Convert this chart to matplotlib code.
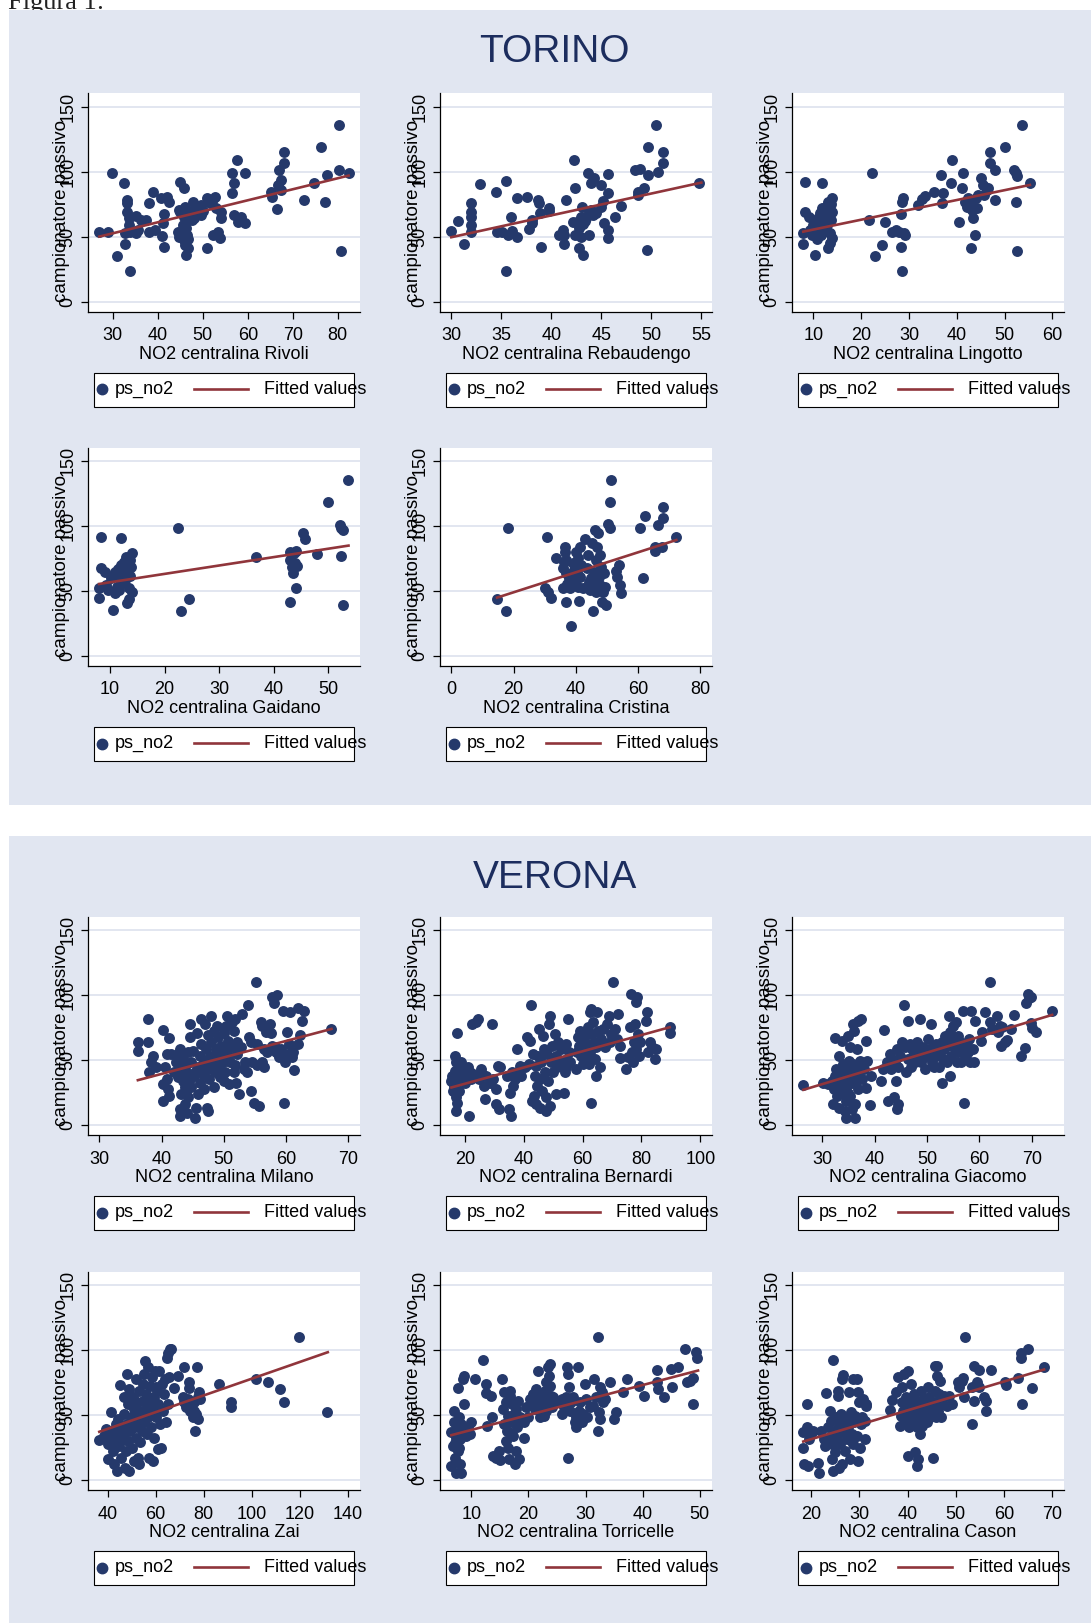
import matplotlib.pyplot as plt
from matplotlib.patches import Rectangle
from matplotlib.lines import Line2D

# ================================================================
# Data read off the figure: (NO2 centralina, campionatore passivo)
# ================================================================
rivoli = [(27.0, 53.3), (28.9, 53.3), (29.9, 98.7), (31.0, 35.1), (32.4, 91.0), (32.6, 44.1), (32.6, 52.6),
          (33.1, 78.2), (33.1, 75.6), (33.2, 68.7), (33.5, 64.1), (33.5, 59.0), (33.9, 23.6), (33.9, 53.8),
          (35.2, 65.9), (35.2, 52.6), (35.6, 55.1), (36.3, 62.8), (37.4, 62.8), (38.1, 76.2), (38.1, 53.8),
          (38.9, 84.6), (39.3, 55.1), (40.7, 80.0), (40.9, 50.5), (41.1, 60.3), (41.3, 67.7), (41.3, 42.3),
          (42.1, 80.8), (42.4, 76.9), (44.4, 53.8), (44.6, 50.0), (45.0, 92.3), (45.0, 68.7), (45.6, 59.0),
          (45.8, 87.2), (45.8, 47.4), (45.9, 65.4), (46.1, 73.1), (46.1, 43.6), (46.3, 35.9), (46.3, 56.4),
          (46.5, 51.3), (46.7, 41.0), (46.8, 62.8), (47.3, 69.2), (47.8, 76.9), (48.0, 64.1), (48.5, 73.1),
          (48.9, 69.7), (49.5, 66.7), (49.6, 74.4), (51.0, 41.5), (51.0, 79.5), (51.5, 75.6), (52.2, 51.3),
          (52.6, 80.8), (53.0, 71.8), (53.3, 53.8), (53.7, 48.7), (54.1, 68.7), (54.1, 64.1), (56.4, 98.7),
          (56.4, 83.3), (57.0, 91.0), (56.9, 66.7), (57.6, 109.0), (57.8, 61.5), (58.4, 65.4), (59.3, 60.3),
          (59.4, 98.7), (65.2, 84.6), (65.4, 80.8), (66.5, 71.3), (66.7, 89.7), (67.0, 101.3), (67.4, 93.6),
          (67.4, 85.9), (68.0, 114.9), (68.1, 106.4), (72.4, 78.2), (74.8, 91.0), (76.3, 119.2), (77.2, 76.9),
          (77.6, 97.4), (80.2, 135.9), (80.2, 101.3), (80.7, 39.2), (82.4, 98.7), (45.2, 52.0), (45.5, 50.5),
          (46.0, 54.5), (47.0, 67.0), (47.5, 63.0), (48.3, 68.0), (49.0, 73.0), (50.0, 70.0), (52.0, 77.0),
          (46.6, 48.0), (44.8, 70.5)]
rivoli_fit_x = [27.0, 82.4]
rivoli_fit_y = [50.0, 96.9]

rebaudengo = [(30.0, 54.4), (30.7, 62.3), (31.3, 44.6), (32.0, 75.6), (32.0, 68.7), (32.0, 65.4), (32.0, 59.0),
              (32.0, 53.8), (32.9, 90.8), (34.5, 84.1), (34.6, 53.8), (35.1, 53.3), (35.5, 92.8), (35.5, 23.6),
              (35.7, 51.3), (36.0, 65.4), (36.1, 54.4), (36.6, 79.5), (36.6, 50.0), (37.6, 80.8), (37.8, 55.9),
              (38.1, 62.8), (38.1, 60.3), (38.7, 78.2), (38.8, 75.6), (38.9, 68.5), (39.0, 42.3), (39.8, 72.3),
              (39.8, 69.7), (40.8, 51.3), (41.2, 55.1), (41.3, 51.3), (41.3, 44.6), (41.5, 78.2), (42.2, 61.5),
              (42.3, 109.0), (42.4, 87.2), (42.4, 51.3), (42.6, 61.5), (42.8, 56.4), (42.8, 41.0), (43.0, 65.4),
              (43.0, 50.0), (43.1, 73.1), (43.2, 35.9), (43.2, 59.5), (43.5, 64.1), (43.7, 98.7), (43.8, 68.7),
              (43.8, 51.3), (44.0, 91.0), (44.2, 66.7), (44.3, 94.9), (45.0, 89.7), (45.0, 73.1), (45.2, 77.4),
              (45.3, 60.3), (45.7, 97.9), (45.7, 83.3), (45.7, 55.1), (45.7, 48.7), (46.4, 65.4), (47.0, 73.8),
              (48.4, 101.3), (48.7, 82.1), (48.7, 84.6), (48.9, 102.1), (49.3, 87.2), (49.6, 39.7), (49.7, 119.2),
              (49.7, 97.4), (50.5, 135.9), (50.7, 99.5), (51.2, 114.9), (51.2, 106.4), (54.8, 91.5),
              (44.5, 68.0), (43.4, 62.0), (42.9, 58.0), (44.0, 70.5)]
rebaudengo_fit_x = [30.0, 55.0]
rebaudengo_fit_y = [49.5, 91.5]

lingotto = [(8.3, 92.3), (7.9, 52.6), (7.9, 44.4), (8.3, 68.7), (9.0, 65.4), (9.3, 55.1), (9.7, 51.3),
            (10.0, 59.0), (10.3, 35.9), (10.7, 48.2), (10.9, 64.1), (11.0, 53.8), (11.4, 67.9), (11.6, 60.3),
            (11.9, 91.0), (11.9, 71.8), (12.1, 56.4), (12.3, 62.8), (12.4, 67.9), (12.6, 73.1), (12.8, 59.0),
            (13.0, 65.4), (13.1, 41.0), (13.3, 70.5), (13.5, 44.9), (13.5, 52.6), (13.7, 74.9), (13.8, 62.8),
            (14.0, 79.5), (14.0, 49.2), (14.0, 68.7), (13.0, 76.9), (11.7, 51.3), (21.6, 62.8), (22.2, 98.7),
            (23.0, 35.1), (24.3, 43.6), (25.0, 61.0), (26.4, 53.8), (27.4, 55.1), (27.9, 53.8), (28.3, 42.3),
            (28.3, 67.2), (28.5, 23.6), (28.6, 76.9), (28.8, 79.5), (29.0, 52.6), (29.2, 51.3), (32.0, 74.4),
            (32.7, 79.0), (33.3, 81.5), (35.3, 84.6), (36.8, 97.4), (37.0, 75.6), (37.2, 83.3), (38.9, 91.0),
            (39.1, 109.0), (40.5, 61.0), (41.0, 87.2), (41.4, 98.7), (41.7, 76.9), (42.1, 73.1), (42.4, 79.5),
            (42.8, 75.6), (43.0, 41.5), (43.1, 70.5), (43.5, 64.6), (43.8, 51.3), (44.0, 79.5), (44.2, 71.8),
            (44.5, 82.1), (45.1, 94.9), (45.4, 89.7), (45.8, 82.1), (46.3, 85.9), (46.6, 87.2), (47.0, 114.9),
            (47.0, 106.4), (47.9, 78.2), (48.0, 101.3), (50.1, 119.2), (52.0, 101.3), (52.3, 76.9),
            (52.5, 98.7), (52.7, 39.2), (52.7, 96.9), (53.7, 135.9), (55.3, 91.5)]
lingotto_fit_x = [7.9, 55.3]
lingotto_fit_y = [53.8, 89.7]

gaidano = [(8.4, 91.8), (8.0, 52.1), (8.0, 44.4), (8.4, 67.9), (9.0, 64.9), (9.3, 54.6), (9.6, 50.8),
           (10.2, 59.7), (10.5, 35.4), (10.9, 48.2), (10.9, 64.9), (11.2, 53.3), (11.4, 66.9), (11.6, 59.7),
           (12.0, 90.5), (12.0, 70.0), (12.2, 55.9), (12.3, 62.3), (12.5, 67.4), (12.6, 72.1), (12.7, 58.5),
           (13.0, 64.9), (13.1, 40.5), (13.2, 69.5), (13.4, 43.8), (13.5, 52.1), (13.6, 73.8), (13.7, 61.8),
           (14.0, 79.0), (14.1, 49.5), (13.8, 68.7), (12.9, 76.4), (11.7, 50.8), (22.4, 98.2), (23.0, 34.6),
           (24.5, 43.8), (36.8, 76.4), (42.9, 41.3), (42.9, 79.7), (43.0, 73.8), (43.3, 68.7), (43.5, 63.6),
           (43.8, 79.0), (43.9, 71.3), (44.1, 52.1), (44.1, 80.8), (44.3, 69.5), (45.3, 94.4), (45.7, 90.0),
           (47.9, 78.2), (50.0, 118.7), (52.2, 100.8), (52.3, 76.9), (52.4, 98.2), (52.6, 39.2), (52.6, 96.9),
           (53.6, 135.6)]
gaidano_fit_x = [8.0, 53.7]
gaidano_fit_y = [55.4, 84.9]

cristina = [(14.7, 43.8), (17.7, 34.6), (18.2, 98.2), (30.7, 91.8), (30.0, 52.1), (31.1, 49.5), (32.1, 44.9),
            (33.5, 75.6), (36.4, 84.1), (36.4, 80.0), (36.1, 72.6), (35.8, 67.4), (36.7, 41.3), (35.8, 52.1),
            (36.7, 63.6), (36.9, 73.8), (37.8, 59.7), (38.0, 52.1), (38.5, 23.1), (39.1, 71.3), (39.6, 58.5),
            (40.2, 80.3), (40.4, 64.9), (40.7, 75.1), (40.7, 53.3), (41.0, 42.3), (41.2, 84.1), (41.4, 61.0),
            (41.8, 70.0), (42.3, 52.1), (42.8, 90.0), (43.6, 67.4), (43.9, 77.7), (44.4, 57.2), (44.7, 50.8),
            (45.3, 86.7), (45.5, 34.6), (45.7, 64.9), (46.1, 55.9), (46.3, 96.9), (46.4, 49.5), (46.6, 73.8),
            (46.8, 84.1), (47.1, 94.4), (47.4, 61.0), (47.7, 54.6), (47.9, 77.7), (48.2, 68.7), (48.5, 41.3),
            (48.7, 49.5), (49.0, 63.6), (49.3, 53.3), (49.8, 39.2), (50.3, 101.3), (51.1, 98.2), (51.1, 118.7),
            (51.4, 135.6), (52.8, 65.4), (53.2, 61.0), (53.9, 70.0), (54.3, 54.6), (54.6, 48.2), (60.5, 98.7),
            (61.6, 60.3), (62.2, 107.9), (65.3, 84.1), (65.6, 80.8), (66.4, 100.8), (67.8, 84.1), (68.0, 114.4),
            (68.0, 106.4), (72.3, 91.5), (37.2, 55.0), (39.5, 66.0), (45.0, 60.0), (46.9, 58.0), (48.0, 52.0)]
cristina_fit_x = [14.7, 72.3]
cristina_fit_y = [44.9, 89.2]

milano = [(36.2, 63.8), (36.2, 57.4), (37.8, 81.8), (37.8, 63.8), (38.3, 48.4), (38.6, 53.5), (38.0, 41.2),
          (39.1, 44.5), (40.2, 73.6), (40.2, 18.8), (40.3, 31.6), (40.6, 44.5), (40.9, 54.8), (41.0, 27.8),
          (41.2, 66.9), (41.2, 22.6), (40.9, 35.5), (41.5, 54.8), (42.0, 40.7), (42.3, 48.4), (42.6, 36.8),
          (42.7, 54.8), (42.9, 12.3), (43.0, 7.2), (43.0, 58.7), (43.1, 23.9), (43.2, 44.5), (43.4, 34.2),
          (43.5, 50.9), (43.7, 16.2), (43.8, 29.1), (44.0, 40.7), (44.1, 9.8), (44.2, 56.1), (44.3, 21.4),
          (44.5, 67.7), (44.6, 78.0), (44.6, 35.5), (44.7, 48.4), (44.8, 29.1), (45.0, 57.4), (45.3, 40.7),
          (45.4, 5.9), (45.5, 13.6), (45.7, 71.0), (45.8, 23.9), (45.9, 44.5), (46.1, 32.9), (46.2, 53.5),
          (46.3, 62.5), (46.4, 81.8), (46.6, 39.4), (46.8, 27.8), (46.9, 48.4), (47.0, 78.0), (47.1, 58.7),
          (47.3, 13.6), (47.4, 11.1), (47.4, 69.5), (47.5, 43.2), (47.7, 35.5), (47.8, 53.5), (47.9, 63.8),
          (48.0, 84.4), (48.2, 48.4), (48.4, 29.1), (48.5, 72.3), (48.6, 40.7), (48.7, 58.7), (48.9, 76.6),
          (49.0, 52.2), (49.1, 67.7), (49.3, 44.5), (49.4, 36.8), (49.5, 61.2), (49.7, 56.1), (49.8, 48.4),
          (50.0, 71.0), (50.1, 34.2), (50.2, 40.7), (50.3, 76.6), (50.5, 84.4), (50.6, 53.5), (50.7, 65.1),
          (50.9, 31.6), (51.0, 48.4), (51.3, 59.9), (51.4, 79.2), (51.6, 40.7), (51.7, 72.8), (51.8, 81.8),
          (52.0, 32.9), (52.1, 54.8), (52.2, 63.8), (52.5, 23.9), (52.7, 59.9), (53.0, 85.7), (53.2, 43.2),
          (53.4, 48.4), (53.8, 41.2), (53.9, 92.6), (54.1, 67.7), (54.3, 26.5), (54.4, 63.8), (54.5, 48.4),
          (54.8, 17.5), (55.2, 110.1), (55.3, 46.3), (55.4, 62.5), (55.7, 14.9), (55.9, 79.2), (56.1, 48.4),
          (56.2, 76.6), (56.4, 44.5), (56.5, 58.7), (56.8, 72.0), (57.0, 56.1), (57.5, 78.0), (57.6, 71.0),
          (57.7, 61.2), (57.8, 98.5), (58.0, 94.2), (58.2, 59.9), (58.4, 56.1), (58.6, 100.3), (58.8, 52.2),
          (59.2, 58.7), (59.5, 88.2), (59.6, 17.5), (59.8, 48.4), (60.1, 71.5), (60.3, 54.8), (60.5, 62.5),
          (60.7, 87.0), (60.9, 52.2), (61.1, 56.1), (61.2, 42.7), (61.9, 62.5), (61.9, 90.0), (62.3, 69.5),
          (62.5, 80.5), (62.9, 88.2), (67.3, 74.1), (43.8, 45.0), (45.2, 38.0), (46.5, 45.5), (48.8, 45.0),
          (49.6, 52.5), (50.4, 58.0), (51.8, 46.0), (42.5, 42.0), (44.0, 26.0)]
milano_fit_x = [36.2, 67.3]
milano_fit_y = [34.7, 74.1]

bernardi = [(15.5, 34.2), (15.8, 38.1), (16.0, 26.5), (16.3, 30.4), (16.6, 41.9), (16.6, 53.5), (16.9, 21.4),
            (16.9, 48.4), (17.2, 11.1), (17.2, 32.9), (17.4, 71.0), (17.4, 17.5), (17.7, 40.7), (18.1, 26.5),
            (18.3, 44.5), (18.5, 35.5), (18.9, 48.4), (19.2, 39.4), (19.7, 43.2), (20.0, 32.9), (20.6, 38.1),
            (21.1, 44.5), (21.5, 7.2), (21.7, 40.7), (22.3, 35.5), (22.6, 78.0), (22.8, 39.4), (23.7, 79.8),
            (24.5, 81.8), (24.9, 35.5), (25.7, 43.2), (26.0, 39.4), (26.4, 30.4), (26.8, 20.1), (27.4, 38.1),
            (28.5, 32.9), (29.1, 78.0), (29.6, 35.5), (30.5, 27.8), (30.7, 16.2), (31.3, 45.8), (31.7, 12.3),
            (32.1, 44.5), (34.4, 38.1), (35.0, 12.3), (35.3, 25.2), (35.8, 7.2), (36.2, 40.7), (36.4, 30.4),
            (37.0, 35.5), (37.8, 58.7), (38.1, 40.7), (38.7, 45.8), (39.2, 38.1), (40.4, 44.5), (41.2, 67.7),
            (41.8, 47.1), (42.3, 65.1), (42.6, 92.6), (43.0, 18.8), (43.2, 54.8), (43.4, 22.6), (43.8, 38.1),
            (44.1, 45.8), (44.3, 16.2), (44.6, 30.4), (44.9, 53.5), (45.2, 74.1), (45.5, 35.5), (45.7, 13.6),
            (46.0, 48.4), (46.4, 26.5), (46.6, 68.9), (46.8, 58.7), (47.2, 40.7), (47.5, 11.1), (47.7, 21.4),
            (47.9, 54.8), (48.3, 34.2), (48.6, 78.0), (48.9, 84.4), (49.1, 14.9), (49.4, 48.4), (49.8, 61.2),
            (50.0, 40.7), (50.5, 70.2), (50.9, 23.9), (51.1, 53.5), (51.3, 44.5), (51.7, 63.8), (52.2, 48.4),
            (52.8, 58.7), (53.6, 25.2), (53.9, 40.7), (54.3, 62.5), (54.5, 44.5), (54.7, 50.9), (55.1, 81.8),
            (55.4, 56.1), (55.9, 48.4), (57.7, 43.2), (58.1, 56.1), (58.5, 67.7), (58.8, 61.2), (59.3, 72.8),
            (59.6, 53.5), (60.0, 65.1), (60.2, 47.1), (60.4, 58.7), (61.1, 69.5), (61.3, 50.9), (61.5, 62.5),
            (61.9, 75.4), (62.2, 47.1), (62.4, 87.0), (62.7, 56.1), (63.0, 17.5), (63.0, 89.5), (63.3, 70.2),
            (63.6, 79.2), (63.8, 63.8), (64.1, 50.9), (64.5, 59.9), (64.7, 38.1), (64.9, 87.0), (65.3, 72.8),
            (66.1, 44.5), (66.4, 66.4), (67.0, 74.1), (67.5, 59.9), (68.3, 78.0), (69.0, 84.4), (69.2, 63.8),
            (69.8, 70.2), (70.4, 110.1), (71.0, 74.1), (71.7, 66.4), (72.0, 85.7), (72.6, 61.2), (72.8, 51.5),
            (74.6, 43.2), (75.4, 52.2), (76.0, 75.4), (76.6, 101.1), (76.9, 56.1), (77.1, 48.4), (77.4, 63.8),
            (77.7, 78.0), (78.0, 94.7), (78.3, 58.7), (78.6, 98.5), (78.8, 70.2), (79.2, 53.5), (79.4, 63.8),
            (81.4, 80.5), (81.9, 87.5), (82.2, 56.1), (83.0, 63.8), (83.7, 59.9), (84.5, 50.9), (85.1, 58.7),
            (89.6, 75.4), (89.6, 71.0)]
bernardi_fit_x = [15.5, 89.6]
bernardi_fit_y = [29.1, 75.4]

giacomo = [(26.4, 30.9), (30.2, 32.9), (31.1, 31.6), (31.9, 34.2), (32.1, 16.2), (32.3, 27.8), (32.4, 66.9),
           (32.5, 38.1), (32.7, 43.2), (32.9, 22.6), (33.1, 53.5), (33.2, 13.6), (33.4, 31.6), (33.6, 40.7),
           (33.7, 65.1), (33.8, 25.2), (34.0, 47.1), (34.2, 35.5), (34.3, 11.1), (34.5, 18.8), (34.6, 5.9),
           (34.6, 29.1), (34.8, 42.5), (35.0, 68.9), (35.1, 49.6), (35.3, 59.9), (35.3, 22.6), (35.5, 38.1),
           (35.6, 12.3), (35.7, 32.9), (35.9, 78.0), (35.9, 47.1), (36.1, 72.3), (36.2, 5.9), (36.2, 16.2),
           (36.4, 44.5), (36.6, 58.7), (36.8, 27.8), (36.9, 80.5), (36.9, 40.7), (37.2, 49.6), (37.4, 81.8),
           (37.6, 35.5), (38.0, 43.2), (38.3, 65.1), (38.3, 28.3), (38.5, 49.6), (39.1, 15.4), (39.3, 38.1),
           (41.3, 34.2), (41.5, 43.2), (41.8, 73.6), (42.3, 48.4), (42.6, 18.8), (42.9, 54.8), (43.2, 43.2),
           (43.6, 21.4), (43.9, 49.6), (44.0, 34.2), (44.2, 12.3), (44.2, 58.7), (44.4, 16.2), (44.5, 44.5),
           (44.8, 53.5), (45.2, 63.8), (45.7, 92.6), (45.8, 59.9), (45.9, 40.7), (46.3, 80.5), (46.4, 50.9),
           (46.8, 62.5), (47.0, 44.5), (47.2, 58.7), (47.4, 53.5), (47.7, 48.4), (48.0, 63.8), (48.3, 56.1),
           (48.7, 81.8), (48.9, 48.4), (49.1, 59.9), (49.5, 52.2), (49.6, 43.2), (49.9, 58.7), (50.1, 66.4),
           (50.4, 54.8), (50.8, 78.0), (50.9, 48.4), (51.2, 59.9), (51.4, 44.5), (51.7, 53.5), (51.8, 62.5),
           (52.2, 44.5), (52.5, 56.1), (52.8, 32.9), (52.9, 63.8), (53.1, 50.9), (53.3, 58.7), (53.4, 68.9),
           (53.8, 48.4), (53.9, 61.2), (54.2, 84.4), (54.4, 38.1), (54.4, 71.5), (54.6, 53.5), (54.7, 66.4),
           (55.0, 76.6), (55.2, 59.9), (55.5, 79.2), (55.7, 48.4), (55.9, 68.9), (56.0, 56.1), (56.3, 63.8),
           (56.5, 48.4), (56.6, 58.7), (56.9, 88.2), (57.1, 17.5), (57.3, 53.5), (57.6, 61.2), (57.9, 56.1),
           (58.0, 66.4), (58.2, 48.4), (58.5, 88.2), (58.7, 58.7), (58.9, 48.4), (59.2, 80.5), (60.3, 65.1),
           (60.6, 71.5), (61.1, 87.5), (62.0, 110.1), (62.0, 79.2), (62.5, 74.1), (63.3, 84.4), (63.6, 71.5),
           (64.0, 76.6), (64.2, 60.7), (64.4, 75.4), (64.9, 64.3), (65.2, 65.9), (66.0, 74.1), (66.7, 84.9),
           (68.0, 53.0), (68.7, 59.2), (69.0, 94.2), (69.2, 101.1), (69.5, 97.8), (69.9, 98.5), (69.9, 78.7),
           (70.0, 74.6), (70.8, 71.5), (73.9, 88.2), (34.4, 45.0), (35.0, 36.0), (35.8, 41.0), (33.8, 36.5),
           (36.5, 33.0), (34.9, 25.0)]
giacomo_fit_x = [26.4, 73.9]
giacomo_fit_y = [27.3, 84.9]

zai = [(36.5, 30.9), (38.3, 34.2), (39.3, 39.4), (40.0, 16.2), (40.0, 27.8), (40.7, 32.9), (41.4, 52.2),
       (41.7, 38.1), (42.1, 22.6), (42.5, 30.4), (42.8, 12.3), (43.5, 43.2), (43.9, 7.2), (44.2, 35.5),
       (44.4, 47.1), (44.9, 26.5), (45.3, 73.6), (45.6, 17.5), (45.8, 40.7), (46.3, 32.9), (46.7, 63.8),
       (46.9, 50.9), (47.2, 9.8), (47.6, 22.6), (48.1, 81.8), (48.1, 43.2), (48.3, 30.4), (48.6, 58.7),
       (49.0, 70.2), (49.0, 7.2), (49.4, 38.1), (49.7, 48.4), (50.0, 25.2), (50.4, 63.8), (50.8, 54.8),
       (51.1, 14.9), (51.4, 40.7), (51.8, 78.0), (51.8, 32.9), (52.2, 59.9), (52.5, 17.5), (52.8, 48.4),
       (53.2, 68.9), (53.2, 12.3), (53.6, 29.1), (53.9, 53.5), (54.2, 38.1), (54.6, 74.1), (54.6, 61.2),
       (55.0, 44.5), (55.3, 81.8), (55.6, 92.1), (55.6, 53.5), (56.0, 66.4), (56.4, 35.5), (56.7, 48.4),
       (56.9, 87.0), (57.4, 58.7), (57.4, 17.5), (57.8, 72.8), (58.1, 40.7), (58.3, 79.2), (58.8, 14.9),
       (58.8, 53.5), (59.2, 32.9), (59.4, 63.8), (59.7, 84.4), (60.1, 48.4), (60.6, 68.9), (60.8, 23.9),
       (61.1, 58.7), (61.5, 84.4), (61.9, 43.2), (62.2, 25.2), (62.5, 74.1), (62.9, 53.5), (63.6, 66.4),
       (63.9, 78.0), (64.3, 44.5), (64.7, 94.2), (65.0, 58.7), (65.3, 97.8), (65.7, 79.2), (66.1, 101.1),
       (66.4, 101.1), (67.8, 71.0), (69.2, 80.5), (71.7, 87.5), (71.3, 63.8), (71.9, 59.9), (72.6, 56.1),
       (73.3, 62.5), (74.0, 75.4), (74.0, 71.0), (74.4, 53.5), (74.7, 57.4), (75.4, 48.4), (75.8, 59.9),
       (76.1, 53.5), (76.4, 38.1), (76.8, 50.9), (77.2, 87.5), (77.5, 63.8), (77.8, 47.1), (78.2, 67.7),
       (78.6, 62.5), (86.5, 74.1), (91.4, 59.9), (91.4, 56.1), (101.8, 78.0), (106.9, 75.4), (111.9, 70.2),
       (113.6, 60.5), (119.9, 110.1), (131.4, 52.7), (47.0, 36.0), (50.2, 44.0), (52.0, 52.0), (54.0, 45.0),
       (55.8, 60.0), (57.0, 64.0), (45.0, 30.0), (43.0, 38.0), (58.0, 56.0), (60.0, 72.0)]
zai_fit_x = [36.5, 131.7]
zai_fit_y = [37.3, 98.5]

torricelle = [(6.5, 36.8), (6.5, 11.1), (6.8, 26.5), (6.9, 44.5), (7.0, 53.0), (7.1, 17.5), (7.3, 32.9),
              (7.4, 5.9), (7.5, 40.7), (7.7, 71.0), (7.7, 22.6), (7.8, 48.4), (8.0, 12.3), (8.1, 31.6),
              (8.2, 5.9), (8.2, 43.2), (8.4, 38.1), (8.5, 78.0), (8.7, 58.7), (8.8, 80.5), (9.0, 34.2),
              (9.4, 40.7), (9.7, 35.5), (10.0, 44.5), (10.6, 78.0), (12.0, 92.6), (12.5, 74.1), (12.5, 66.9),
              (12.7, 41.9), (13.5, 65.1), (13.7, 48.4), (13.8, 18.8), (14.4, 17.5), (14.8, 22.6), (15.1, 15.4),
              (15.3, 78.0), (15.5, 54.8), (15.7, 43.2), (15.8, 67.7), (16.0, 30.4), (16.1, 59.9), (16.3, 38.1),
              (16.4, 49.6), (16.4, 25.2), (16.6, 16.2), (16.7, 65.1), (16.8, 68.9), (17.0, 44.5), (17.2, 58.7),
              (17.3, 34.2), (17.4, 50.9), (17.6, 12.3), (17.8, 22.6), (17.9, 54.8), (18.0, 40.7), (18.2, 61.2),
              (18.4, 16.2), (18.5, 48.4), (19.2, 32.9), (19.3, 44.5), (19.6, 56.1), (19.9, 48.4), (20.2, 62.5),
              (20.5, 58.7), (20.8, 66.4), (21.1, 54.8), (21.4, 70.2), (21.6, 84.4), (21.7, 61.2), (22.0, 48.4),
              (22.1, 66.4), (22.3, 57.4), (22.6, 62.5), (22.7, 49.6), (22.9, 68.9), (23.0, 53.5), (23.1, 75.4),
              (23.3, 59.9), (23.4, 87.0), (23.6, 80.5), (23.7, 89.5), (23.8, 72.8), (24.0, 65.1), (24.2, 56.1),
              (24.3, 63.8), (24.9, 59.9), (25.8, 50.9), (25.9, 62.5), (26.2, 56.1), (26.5, 63.8), (26.8, 87.5),
              (27.0, 17.5), (27.0, 81.8), (27.1, 71.5), (27.2, 53.5), (27.5, 59.9), (27.8, 63.8), (28.1, 44.5),
              (28.3, 40.7), (28.4, 48.4), (28.7, 87.0), (28.9, 53.5), (29.1, 59.9), (29.3, 44.5), (29.6, 50.9),
              (29.9, 74.1), (30.0, 62.5), (30.3, 48.4), (30.7, 56.1), (31.3, 57.4), (31.4, 78.0), (31.9, 63.8),
              (32.2, 110.1), (32.2, 38.1), (32.4, 52.2), (32.5, 47.1), (32.6, 71.5), (32.8, 67.7), (33.1, 59.9),
              (33.4, 62.5), (34.2, 75.4), (34.9, 47.1), (35.4, 52.2), (37.2, 78.0), (36.6, 67.7), (39.4, 72.8),
              (40.2, 65.1), (42.5, 84.9), (42.5, 75.4), (42.7, 70.2), (43.7, 64.3), (45.0, 85.7), (45.2, 71.5),
              (46.2, 87.5), (47.4, 101.1), (47.8, 75.4), (48.3, 76.6), (48.8, 58.7), (48.8, 78.7), (49.4, 98.5),
              (49.5, 94.2), (7.2, 29.0), (7.9, 25.0), (8.6, 36.0), (16.9, 36.0), (17.5, 46.0), (22.5, 55.0)]
torricelle_fit_x = [6.5, 49.7]
torricelle_fit_y = [34.7, 84.4]

cason = [(18.4, 37.3), (18.4, 25.2), (18.6, 12.3), (19.1, 58.7), (19.1, 40.7), (19.3, 11.1), (19.6, 31.6),
         (20.0, 35.5), (20.5, 38.1), (21.4, 13.6), (21.7, 5.9), (22.1, 38.1), (22.6, 31.6), (22.9, 26.5),
         (23.2, 66.9), (23.5, 40.7), (23.7, 32.9), (23.9, 53.5), (24.1, 45.8), (24.3, 27.8), (24.4, 16.2),
         (24.6, 92.6), (24.6, 7.2), (24.8, 38.1), (25.0, 21.4), (25.1, 48.4), (25.3, 32.9), (25.5, 68.9),
         (25.5, 65.1), (25.7, 9.8), (25.8, 41.9), (26.0, 27.8), (26.2, 50.9), (26.4, 12.3), (26.5, 78.0),
         (26.7, 36.8), (26.7, 81.3), (26.9, 45.8), (27.0, 22.6), (27.4, 31.6), (27.6, 48.4), (27.7, 40.7),
         (27.9, 67.7), (28.1, 16.2), (28.3, 52.2), (28.4, 35.5), (28.6, 27.8), (28.8, 78.0), (29.0, 44.5),
         (29.1, 49.6), (29.5, 78.0), (29.5, 34.2), (29.7, 14.9), (29.8, 67.7), (29.9, 59.9), (30.2, 25.2),
         (30.4, 43.2), (30.6, 48.4), (30.8, 62.5), (31.1, 45.8), (31.2, 31.6), (31.3, 57.4), (31.5, 58.7),
         (36.4, 54.0), (36.7, 61.7), (37.7, 67.7), (38.1, 79.8), (38.4, 41.9), (38.6, 49.6), (38.8, 59.9),
         (38.9, 71.5), (39.1, 53.5), (39.3, 81.8), (39.5, 47.1), (39.6, 63.8), (39.8, 57.4), (40.0, 84.4),
         (40.2, 18.8), (40.3, 40.7), (40.5, 50.9), (40.7, 74.1), (40.9, 59.9), (41.0, 45.8), (41.2, 56.1),
         (41.4, 66.4), (41.5, 21.4), (41.7, 50.9), (41.9, 11.1), (41.9, 40.7), (42.1, 59.9), (42.2, 16.2),
         (42.4, 48.4), (42.6, 35.5), (42.8, 68.9), (42.9, 53.5), (43.1, 41.9), (43.3, 62.5), (43.5, 49.6),
         (43.6, 58.7), (44.0, 44.5), (44.2, 71.5), (44.3, 53.5), (44.4, 63.8), (44.7, 48.4), (44.9, 59.9),
         (45.1, 53.5), (45.3, 17.5), (45.6, 88.2), (45.7, 68.9), (45.8, 48.4), (46.0, 59.9), (46.2, 88.2),
         (46.2, 80.5), (46.4, 53.5), (46.5, 66.4), (46.7, 76.6), (46.9, 48.4), (47.1, 58.7), (47.6, 65.1),
         (48.1, 57.4), (48.6, 65.1), (49.3, 58.7), (50.5, 75.4), (50.7, 71.5), (51.2, 76.6), (51.6, 78.7),
         (51.8, 64.3), (51.9, 110.1), (53.3, 71.5), (53.3, 43.2), (53.8, 60.7), (53.8, 88.2), (54.3, 75.4),
         (54.8, 84.9), (54.8, 71.5), (55.9, 64.3), (56.2, 61.2), (56.2, 53.0), (57.4, 84.9), (60.3, 75.4),
         (60.5, 73.6), (62.8, 78.7), (63.5, 97.8), (63.6, 94.2), (63.8, 58.7), (64.9, 101.1), (65.7, 71.0),
         (68.3, 87.5), (26.3, 44.0), (27.2, 38.0), (42.0, 55.0), (43.0, 46.0), (44.5, 56.0), (41.0, 52.0)]
cason_fit_x = [18.4, 68.3]
cason_fit_y = [29.8, 85.2]

# ================================================================
# Layout (pixels of the 1091x1623 output)
# ================================================================
W, H = 1091, 1623
PANEL = '#e1e6f1'
GRID = '#dfe4ef'
NAVY = '#25396b'
MAROON = '#90353b'
TITLE = '#1c2d5e'

COL_LEFT = [87.7, 439.7, 791.7]
ROW_TOP = [93.3, 447.7, 917.0, 1272.0]
AX_W, AX_H = 272.6, 218.3
YLIM = (-7.7, 160.2)

# name, data, fit x, fit y, xlim, xticks, row, col
panels = [
    ('Rivoli', rivoli, rivoli_fit_x, rivoli_fit_y, (24.4, 85.0), range(30, 81, 10), 0, 0),
    ('Rebaudengo', rebaudengo, rebaudengo_fit_x, rebaudengo_fit_y, (28.84, 56.1), range(30, 56, 5), 0, 1),
    ('Lingotto', lingotto, lingotto_fit_x, lingotto_fit_y, (5.48, 62.5), range(10, 61, 10), 0, 2),
    ('Gaidano', gaidano, gaidano_fit_x, gaidano_fit_y, (5.91, 55.86), range(10, 51, 10), 1, 0),
    ('Cristina', cristina, cristina_fit_x, cristina_fit_y, (-3.73, 83.86), range(0, 81, 20), 1, 1),
    ('Milano', milano, milano_fit_x, milano_fit_y, (28.14, 71.93), range(30, 71, 10), 2, 0),
    ('Bernardi', bernardi, bernardi_fit_x, bernardi_fit_y, (11.51, 104.07), range(20, 101, 20), 2, 1),
    ('Giacomo', giacomo, giacomo_fit_x, giacomo_fit_y, (24.15, 76.23), range(30, 71, 10), 2, 2),
    ('Zai', zai, zai_fit_x, zai_fit_y, (31.67, 145.25), range(40, 141, 20), 3, 0),
    ('Torricelle', torricelle, torricelle_fit_x, torricelle_fit_y, (4.46, 52.2), range(10, 51, 10), 3, 1),
    ('Cason', cason, cason_fit_x, cason_fit_y, (16.0, 72.49), range(20, 71, 10), 3, 2),
]

plt.rcParams['font.family'] = ['Liberation Sans', 'DejaVu Sans']

fig = plt.figure(figsize=(W / 100, H / 100), dpi=100)


def fx(px):
    return px / W


def fy(py):
    return 1 - py / H


fig.text(fx(8), fy(9), 'Figura 1:', family=['Liberation Serif', 'DejaVu Serif'],
         fontsize=19, color='#222222', va='baseline', zorder=-2)

# light panels for the two cities
for top, bot in [(10, 805), (836, H)]:
    fig.add_artist(Rectangle((fx(9), fy(bot)), 1 - fx(9), fy(top) - fy(bot),
                             transform=fig.transFigure, facecolor=PANEL,
                             edgecolor='none', zorder=-1))

fig.text(fx(554), fy(62), 'TORINO', ha='center', va='baseline', fontsize=28, color=TITLE)
fig.text(fx(555), fy(888), 'VERONA', ha='center', va='baseline', fontsize=28, color=TITLE)

for name, pts, fit_x, fit_y, xlim, xticks, row, col in panels:
    L, T = COL_LEFT[col], ROW_TOP[row]
    B = T + AX_H
    ax = fig.add_axes([fx(L), fy(B), AX_W / W, AX_H / H])
    xs = [p[0] for p in pts]
    ys = [p[1] for p in pts]

    ax.scatter(xs, ys, s=62, color=NAVY, linewidths=0, zorder=3)
    ax.plot(fit_x, fit_y, color=MAROON, lw=1.9, zorder=4)

    ax.set_xlim(*xlim)
    ax.set_ylim(*YLIM)
    ax.set_xticks(list(xticks))
    ax.set_yticks([0, 50, 100, 150])
    ax.yaxis.grid(True, color=GRID, lw=1.3)
    ax.set_axisbelow(True)
    for s in ['top', 'right']:
        ax.spines[s].set_visible(False)
    for s in ['left', 'bottom']:
        ax.spines[s].set_linewidth(0.9)
    ax.tick_params(direction='out', length=5, width=0.9, labelsize=13)
    ax.tick_params(axis='x', pad=6)
    ax.tick_params(axis='y', pad=3, labelrotation=90)
    for lab in ax.get_yticklabels():
        lab.set_va('center')

    ax.text(-26.7 / AX_W, 0.46, 'campionatore passivo', rotation=90, transform=ax.transAxes,
            ha='center', va='center', fontsize=13.5, clip_on=False)
    ax.text(0.5, -47 / AX_H, f'NO2 centralina {name}', transform=ax.transAxes,
            ha='center', va='baseline', fontsize=13, clip_on=False)

    # legend box under each plot
    fig.add_artist(Rectangle((fx(L + 6), fy(B + 95)), 260 / W, 34 / H, transform=fig.transFigure,
                             facecolor='white', edgecolor='black', lw=0.8, zorder=1))
    fig.add_artist(Line2D([fx(L + 14)], [fy(B + 77.7)], marker='o', ms=7.5, color=NAVY,
                          ls='none', transform=fig.transFigure, zorder=2))
    fig.text(fx(L + 27.5), fy(B + 77.5), 'ps_no2', va='center', fontsize=13, zorder=3)
    fig.add_artist(Line2D([fx(L + 106), fx(L + 160.6)], [fy(B + 77), fy(B + 77)], color=MAROON,
                          lw=1.9, transform=fig.transFigure, zorder=2))
    fig.text(fx(L + 176), fy(B + 77.5), 'Fitted values', va='center', fontsize=13, zorder=3)

fig.savefig('out.png', dpi=100)
